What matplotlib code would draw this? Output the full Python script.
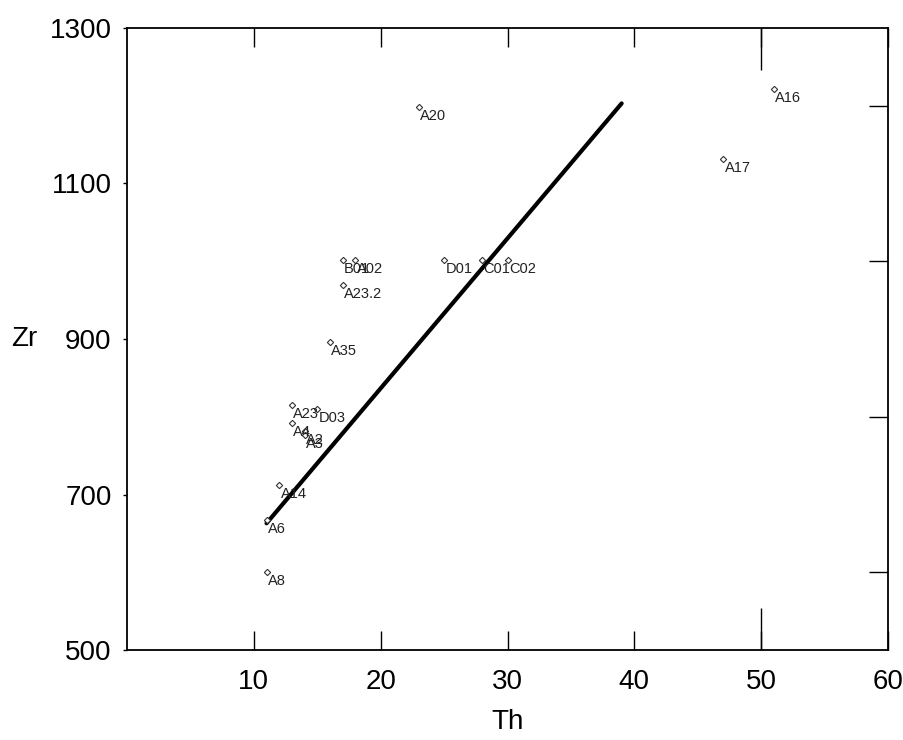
import matplotlib
matplotlib.use("Agg")
import matplotlib.pyplot as plt
import numpy as np

plt.rcParams['font.family'] = ['Liberation Sans Narrow', 'Liberation Sans', 'DejaVu Sans']

# sample points
names = ['A16', 'A17', 'A20', 'D01', 'C01', 'C02', 'B01', 'A02', 'A23.2', 'A35',
         'A23', 'D03', 'A4', 'A2', 'A3', 'A14', 'A6', 'A8']
th = [51, 47, 23, 25, 28, 30, 17, 18, 17, 16,
      13, 15, 13, 14, 14, 12, 11, 11]
zr = [1222, 1131, 1198, 1002, 1002, 1002, 1002, 1002, 970, 896,
      815, 810, 792, 782, 776, 712, 667, 600]

# fitted line end points
line_th = [11, 39]
line_zr = [663, 1203]

fig = plt.figure(figsize=(9.04, 7.4), dpi=100)
ax = fig.add_axes([0.1405, 0.1216, 0.8418, 0.8406])

ax.plot(line_th, line_zr, color='black', lw=3, solid_capstyle='round')
ax.plot(th, zr, linestyle='none', marker='D', ms=3.2, mfc='white', mec='#333333', mew=0.8)
for n, x, y in zip(names, th, zr):
    ax.annotate(n, (x, y), xytext=(1, -1.5), textcoords='offset points',
                ha='left', va='top', fontsize=10.5, color='#222222')

ax.set_xlim(0, 60)
ax.set_ylim(500, 1300)
ax.set_xticks([10, 20, 30, 40, 50, 60])
ax.set_yticks([500, 700, 900, 1100, 1300])
ax.tick_params(axis='x', direction='in', top=True, length=14, width=1, labelsize=20, pad=14)
ax.tick_params(axis='y', direction='out', length=3, width=1, labelsize=20, pad=8)
ax.set_yticks(np.arange(600, 1300, 100), minor=True)
ax.tick_params(axis='y', which='minor', direction='in', left=False, right=True, length=14, width=1)
ax.set_xticks([50.001], minor=True)
ax.tick_params(axis='x', which='minor', direction='in', top=True, length=30, width=1)
for s in ax.spines.values():
    s.set_linewidth(1.3)

ax.set_xlabel('Th', fontsize=20, labelpad=10)
ax.set_ylabel('Zr', fontsize=20, rotation=0, labelpad=18, va='center')

fig.savefig('out.png', dpi=100)
